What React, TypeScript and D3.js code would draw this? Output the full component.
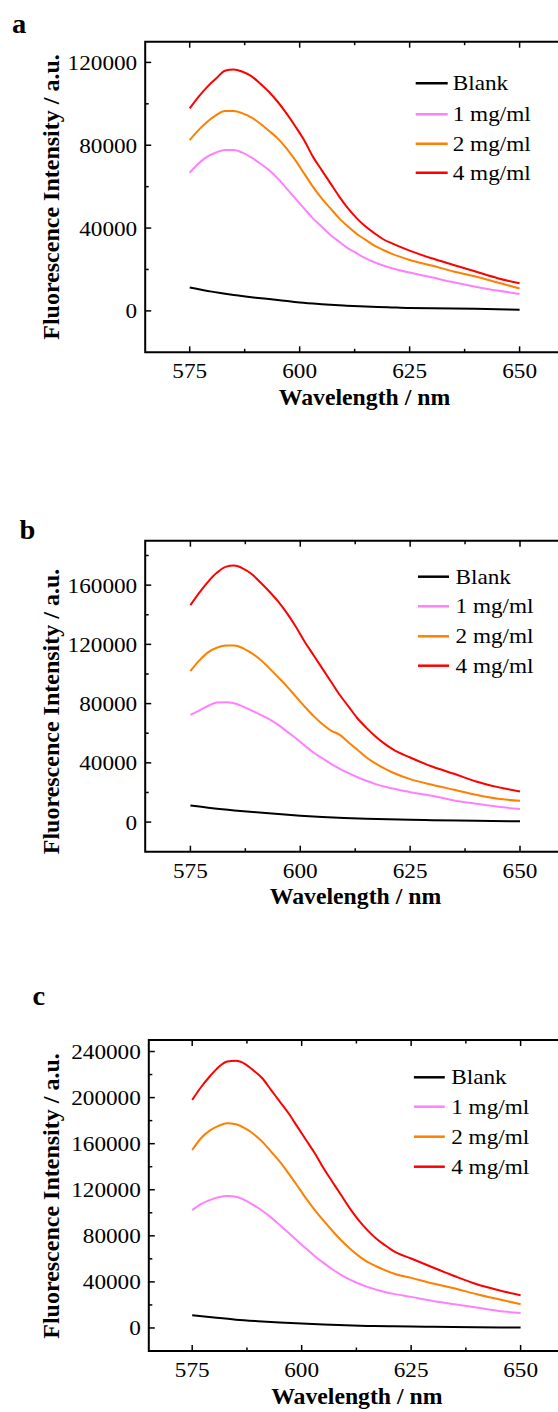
import React from "react";
import * as d3 from "d3";

// ---------- data ----------
const WAVELENGTHS = [575, 577, 579, 581, 583, 585, 587, 589, 591, 593, 595, 597, 599, 601, 603, 605, 607, 609, 611, 613, 615, 617, 619, 621, 625, 630, 635, 640, 645, 650];
const BLANK_WAVELENGTHS = [575, 580, 585, 590, 595, 600, 605, 610, 615, 620, 625, 630, 640, 650];
const X_TICKS = [575, 600, 625, 650];
const SERIES_LABELS = ["Blank", "1 mg/ml", "2 mg/ml", "4 mg/ml"];
const SERIES_COLORS = ["#000000", "#ff80ff", "#ff8000", "#ff0000"];

// panel a
const A_BLANK = [11300, 9300, 7700, 6400, 5300, 4000, 3200, 2600, 2100, 1800, 1400, 1300, 1000, 600];
const A_1MG = [66700, 71200, 74500, 76500, 77700, 77700, 76400, 74100, 71200, 68000, 64000, 59200, 54300, 49500, 44700, 40700, 36700, 33400, 30200, 27800, 25400, 23500, 21900, 20600, 18500, 16200, 13800, 11700, 9800, 8200];
const A_2MG = [82500, 87300, 91300, 94500, 96500, 96500, 95400, 93400, 90500, 87000, 83300, 78500, 72800, 66400, 60000, 54300, 49500, 44700, 40700, 37100, 34300, 31500, 29400, 27500, 24600, 21900, 19000, 16600, 13700, 10800];
const A_4MG = [97800, 103400, 108200, 112200, 116000, 116600, 115500, 113400, 109800, 105800, 101000, 95400, 89200, 82500, 74500, 68000, 61600, 55200, 49500, 44700, 40700, 37500, 34600, 32600, 29100, 25400, 22200, 19000, 15800, 13300];
const A_Y_TICKS = [0, 40000, 80000, 120000];

// panel b
const B_BLANK = [11200, 9400, 7900, 6600, 5400, 4300, 3400, 2700, 2200, 1900, 1600, 1300, 900, 500];
const B_1MG = [72400, 75300, 78400, 80700, 80900, 80200, 78000, 75300, 72400, 69400, 65600, 61100, 56600, 51700, 47000, 43100, 39300, 36000, 33000, 30300, 27900, 25800, 24000, 22700, 20200, 17800, 14600, 12400, 10300, 8800];
const B_2MG = [102000, 109000, 114600, 117700, 119300, 119300, 117300, 113900, 109400, 103800, 97700, 91500, 84700, 78000, 71700, 66300, 61800, 58900, 53700, 48800, 43800, 39800, 36400, 33500, 29000, 25200, 21800, 18400, 15700, 14400];
const B_4MG = [146500, 154800, 162200, 168300, 172300, 173200, 171200, 167400, 161600, 155500, 148800, 140900, 131900, 121800, 112800, 103800, 94800, 85800, 78000, 70100, 63800, 58200, 53300, 49200, 43600, 37500, 32600, 27400, 23600, 20700];
const B_Y_TICKS = [0, 40000, 80000, 120000, 160000];

// panel c
const C_BLANK = [11000, 9000, 7200, 5900, 4800, 3800, 3000, 2300, 1800, 1500, 1200, 1000, 600, 300];
const C_1MG = [102300, 107600, 111000, 113400, 114500, 113900, 111000, 106700, 101800, 96000, 89300, 82600, 75700, 69000, 62300, 56500, 51000, 46100, 42000, 38600, 35700, 33300, 31300, 29600, 27000, 23500, 20600, 17700, 14800, 13000];
const C_2MG = [154500, 164700, 171300, 175400, 177700, 176800, 173400, 168400, 161800, 153100, 144400, 134200, 123500, 112500, 102300, 93100, 84400, 76200, 69000, 62600, 57400, 53600, 50200, 47300, 43500, 38600, 34200, 29300, 24900, 20600];
const C_4MG = [198000, 209000, 218300, 226400, 231300, 231900, 229300, 223500, 216800, 206700, 196500, 186400, 174800, 163200, 151600, 138600, 127000, 115400, 103800, 93600, 84900, 77700, 71900, 66700, 60300, 52500, 44900, 38000, 32800, 28400];
const C_Y_TICKS = [0, 40000, 80000, 120000, 160000, 200000, 240000];

// ---------- layout ----------
const FONT = "'Liberation Serif', 'Times New Roman', Times, serif";
const SX = 1.055; // horizontal stretch of the source figure's text

type PanelLayout = {
  letter: string;
  letterX: number;
  letterY: number;
  left: number;
  top: number;
  bottom: number;
  x575: number;
  x650: number;
  yDomain: [number, number];
  yTicks: number[];
  yTitleCy: number;
  xTitleCx: number;
  legendX1: number;
  legendX2: number;
  legendTextX: number;
  legendY: number[];
  series: number[][];
};

const PANELS: PanelLayout[] = [
  {
    letter: "a", letterX: 12, letterY: 33,
    left: 145.2, top: 41.7, bottom: 352.3, x575: 189.7, x650: 519.6,
    yDomain: [-20000, 130000], yTicks: A_Y_TICKS,
    yTitleCy: 197, xTitleCx: 364.5,
    legendX1: 415.7, legendX2: 447.7, legendTextX: 452.7,
    legendY: [83.3, 114.3, 143.7, 172.7],
    series: [A_BLANK, A_1MG, A_2MG, A_4MG],
  },
  {
    letter: "b", letterX: 19.5, letterY: 539.3,
    left: 145.2, top: 540.7, bottom: 851.7, x575: 190.4, x650: 520,
    yDomain: [-20000, 190000], yTicks: B_Y_TICKS,
    yTitleCy: 711.5, xTitleCx: 355.5,
    legendX1: 418, legendX2: 449, legendTextX: 455.5,
    legendY: [576.7, 606.3, 636.3, 665.7],
    series: [B_BLANK, B_1MG, B_2MG, B_4MG],
  },
  {
    letter: "c", letterX: 32.5, letterY: 1005,
    left: 148.8, top: 1040, bottom: 1351, x575: 192.2, x650: 520.6,
    yDomain: [-20000, 250000], yTicks: C_Y_TICKS,
    yTitleCy: 1196, xTitleCx: 356.8,
    legendX1: 413.9, legendX2: 444.8, legendTextX: 451.2,
    legendY: [1077.3, 1106.7, 1136.7, 1166.7],
    series: [C_BLANK, C_1MG, C_2MG, C_4MG],
  },
];

function SText({ x, y, anchor, size, bold, children, dy }: any) {
  return (
    <text
      transform={`translate(${x},${y}) scale(${SX},1)`}
      dy={dy}
      textAnchor={anchor || "start"}
      fontFamily={FONT}
      fontWeight={bold ? "bold" : "normal"}
      fontSize={size}
    >
      {children}
    </text>
  );
}

function Panel({ p }: { p: PanelLayout }) {
  const x = d3.scaleLinear().domain([575, 650]).range([p.x575, p.x650]);
  const y = d3.scaleLinear().domain(p.yDomain).range([p.bottom, p.top]);
  const right = 700; // frame continues beyond the visible area

  const xMinor = X_TICKS.slice(0, -1).map((t, i) => (t + X_TICKS[i + 1]) / 2);
  const yMinor: number[] = [];
  p.yTicks.forEach((t, i) => {
    if (i < p.yTicks.length - 1) yMinor.push((t + p.yTicks[i + 1]) / 2);
  });
  const step = p.yTicks[1] - p.yTicks[0];
  const above = p.yTicks[p.yTicks.length - 1] + step / 2;
  if (above < p.yDomain[1]) yMinor.push(above);

  const line = d3
    .line<[number, number]>()
    .x((d) => x(d[0]))
    .y((d) => y(d[1]))
    .curve(d3.curveMonotoneX);

  const majorLen = 6;
  const minorLen = 3.5;

  return (
    <g>
      <SText x={p.letterX} y={p.letterY} size={27} bold>
        {p.letter}
      </SText>
      {/* curves */}
      {p.series.map((vals, si) => {
        const xs = si === 0 ? BLANK_WAVELENGTHS : WAVELENGTHS;
        const pts = xs.map((w, i) => [w, vals[i]] as [number, number]);
        return (
          <path key={si} d={line(pts) || ""} fill="none" stroke={SERIES_COLORS[si]} strokeWidth={2} strokeLinejoin="round" />
        );
      })}
      {/* frame */}
      <path
        d={`M${right},${p.top}H${p.left}V${p.bottom}H${right}`}
        fill="none"
        stroke="#000"
        strokeWidth={2}
      />
      {/* x ticks bottom & top */}
      {X_TICKS.map((t) => (
        <g key={"xt" + t}>
          <line x1={x(t)} x2={x(t)} y1={p.bottom} y2={p.bottom - majorLen} stroke="#000" strokeWidth={1.5} />
          <line x1={x(t)} x2={x(t)} y1={p.top} y2={p.top + majorLen} stroke="#000" strokeWidth={1.5} />
          <SText x={x(t)} y={p.bottom + 26} anchor="middle" size={22}>
            {t}
          </SText>
        </g>
      ))}
      {xMinor.map((t) => (
        <g key={"xm" + t}>
          <line x1={x(t)} x2={x(t)} y1={p.bottom} y2={p.bottom - minorLen} stroke="#000" strokeWidth={1.5} />
          <line x1={x(t)} x2={x(t)} y1={p.top} y2={p.top + minorLen} stroke="#000" strokeWidth={1.5} />
        </g>
      ))}
      {/* y ticks */}
      {p.yTicks.map((t) => (
        <g key={"yt" + t}>
          <line x1={p.left} x2={p.left + majorLen} y1={y(t)} y2={y(t)} stroke="#000" strokeWidth={1.5} />
          <SText x={p.left - 8} y={y(t)} dy="0.34em" anchor="end" size={22}>
            {t}
          </SText>
        </g>
      ))}
      {yMinor.map((t) => (
        <line key={"ym" + t} x1={p.left} x2={p.left + minorLen} y1={y(t)} y2={y(t)} stroke="#000" strokeWidth={1.5} />
      ))}
      {/* axis titles */}
      <SText x={p.xTitleCx} y={p.bottom + 52.5} anchor="middle" size={22.5} bold>
        Wavelength / nm
      </SText>
      <text
        transform={`translate(59,${p.yTitleCy}) rotate(-90)`}
        textAnchor="middle"
        fontFamily={FONT}
        fontWeight="bold"
        fontSize={24}
      >
        Fluorescence Intensity / a.u.
      </text>
      {/* legend */}
      {SERIES_LABELS.map((lab, i) => (
        <g key={"lg" + i}>
          <line x1={p.legendX1} x2={p.legendX2} y1={p.legendY[i]} y2={p.legendY[i]} stroke={SERIES_COLORS[i]} strokeWidth={2.5} />
          <SText x={p.legendTextX} y={p.legendY[i] + 7} size={22}>
            {lab}
          </SText>
        </g>
      ))}
    </g>
  );
}

export default function App() {
  return (
    <div style={{ position: "absolute", left: 0, top: 0, width: 558, height: 1412, overflow: "hidden", background: "#fff" }}>
      <svg width={558} height={1412} viewBox="0 0 558 1412" style={{ display: "block" }}>
        <rect x={0} y={0} width={558} height={1412} fill="#fff" />
        {PANELS.map((p) => (
          <Panel key={p.letter} p={p} />
        ))}
      </svg>
    </div>
  );
}
